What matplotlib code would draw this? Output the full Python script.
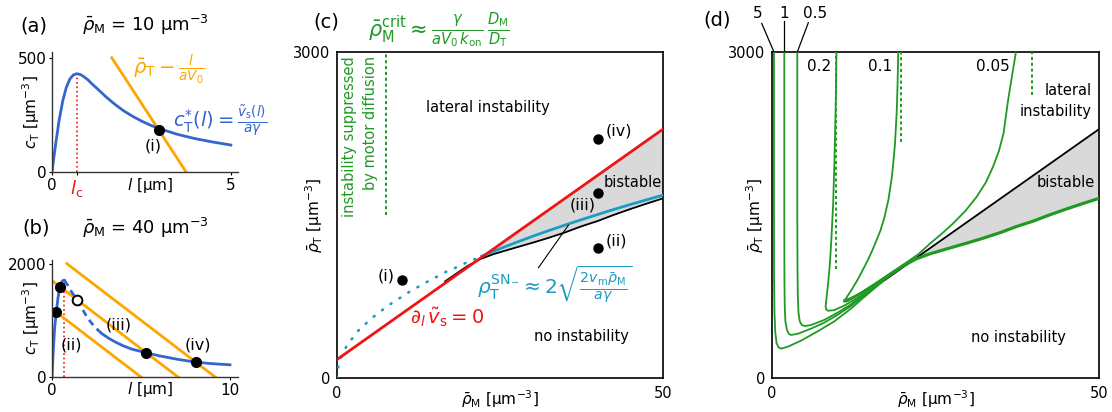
import matplotlib
matplotlib.use("Agg")
import matplotlib.pyplot as plt

plt.rcParams['font.family'] = ['DejaVu Sans']
plt.rcParams['mathtext.fontset'] = 'dejavusans'
plt.rcParams['font.size'] = 10.5

BLUE = '#3466cf'
ORANGE = '#ffa500'
RED = '#f01414'
TEAL = '#1d9bc2'
GREEN = '#1f9a22'
GRAY = '#d9d9d9'

# ---------------- panel (a): rho_M = 10 ----------------
a_l = [0, 0.1, 0.2, 0.3, 0.4, 0.5, 0.6, 0.7, 0.8, 0.9, 1.0, 1.1, 1.25, 1.5, 1.75, 2.0, 2.25,
       2.5, 2.75, 3.0, 3.5, 4.0, 4.5, 5.0]
a_c = [0, 120, 227, 311, 370, 407, 425, 430, 426, 416, 404, 388, 367, 330, 297, 268, 244,
       223, 205, 190, 165, 146, 131, 118]
a_orange_l = [1.67, 3.75]
a_orange_c = [500, 0]
a_lc = 0.7
a_peak = 430
a_dot = (2.98, 185)

# ---------------- panel (b): rho_M = 40 ----------------
b_l_rise = [0, 0.05, 0.1, 0.15, 0.24, 0.33, 0.44, 0.55, 0.62, 0.7]
b_c_rise = [0, 330, 620, 870, 1140, 1380, 1595, 1680, 1703, 1705]
b_l_unst = [0.7, 0.9, 1.1, 1.4, 1.7, 2.0, 2.4, 2.8]
b_c_unst = [1705, 1610, 1500, 1365, 1200, 1040, 880, 765]
b_l_fall = [2.8, 3.2, 3.6, 4.0, 4.5, 5.28, 6.0, 7.0, 8.08, 9.0, 10.0]
b_c_fall = [765, 680, 610, 550, 490, 428, 375, 315, 261, 235, 215]
b_orange = [([0, 5.0], [1200, 0]), ([0, 7.08], [1700, 0]), ([0.83, 9.17], [2000, 0])]
b_dots_l = [0.24, 0.44, 5.28, 8.08]
b_dots_c = [1140, 1595, 428, 261]
b_open = (1.40, 1365)
b_lc = 0.7
b_peak = 1705

# ---------------- panel (c): phase diagram ----------------
red_M = [0, 16.6, 50]
red_T = [170, 874, 2290]
lower_M = [16.6, 18, 20, 22, 24, 27, 30, 32.2, 35, 37.3, 40, 42.4, 45, 47.5, 50]
lower_T = [890, 948, 1030, 1095, 1140, 1193, 1245, 1285, 1340, 1392, 1445, 1500, 1555, 1605, 1653]
sn_dot_M = [0, 0.15, 0.5, 1, 1.64, 2.5, 3.27, 4.3, 5.32, 6.4, 7.52, 8.7, 9.92, 11, 12.2,
            13.3, 14.5, 15.6, 16.8, 18, 19.4, 21, 22.2]
sn_dot_T = [0, 92, 168, 238, 312, 376, 436, 494, 549, 602, 650, 702, 746, 789, 830,
            868, 907, 940, 980, 1010, 1050, 1090, 1121]
sn_M = [22.2, 25, 27.5, 30, 32.5, 35, 37.5, 40, 42.5, 45, 47.5, 50]
sn_T = [1121, 1190, 1248, 1304, 1357, 1408, 1457, 1505, 1552, 1597, 1640, 1683]
pts_M = [10, 40, 40, 40]
pts_T = [900, 1200, 1700, 2200]
crit_M = 7.5
crit_T0 = 1500

# ---------------- panel (d): curves for different parameter values ----------------
d_curves = {
    '5':   ([0.30, 0.30, 0.32, 0.38, 0.5, 0.7, 1.0, 1.42, 2.5, 4.48, 7, 9.5, 12, 14, 16.6, 18],
            [3000, 1500, 900, 600, 420, 320, 282, 270, 290, 345, 430, 520, 635, 740, 872, 946]),
    '1':   ([1.88, 1.88, 1.9, 1.95, 2.05, 2.3, 2.6, 2.95, 4, 6, 8, 10, 12, 14, 16.6, 18],
            [3000, 1500, 900, 650, 520, 440, 405, 396, 408, 455, 510, 580, 660, 755, 876, 947]),
    '0.5': ([3.87, 3.87, 3.9, 3.95, 4.05, 4.25, 4.55, 5.0, 6, 8, 10, 12, 14, 16.6, 18],
            [3000, 1500, 1000, 750, 600, 520, 488, 478, 488, 535, 600, 675, 765, 878, 948]),
    '0.2': ([9.85, 9.8, 9.7, 9.55, 9.35, 9.1, 8.85, 8.55, 8.3, 8.2, 8.3, 8.56, 9.5, 11, 13, 15,
             16.6, 18],
            [3000, 2700, 2400, 2000, 1600, 1300, 1050, 850, 720, 660, 630, 619, 624, 665, 735,
             815, 880, 949]),
    '0.1': ([19.3, 19.2, 19.07, 18.8, 18.5, 18.3, 17.8, 17.2, 16.6, 16.0, 15.3, 14.7, 14.1,
             13.5, 13.0, 12.5, 12.0, 11.5, 11.1, 11.0, 11.5, 13, 15, 16.6, 18],
            [3000, 2700, 2450, 2150, 1950, 1837, 1640, 1480, 1360, 1270, 1170, 1090, 1020,
             950, 895, 845, 795, 750, 712, 702, 706, 755, 830, 888, 950]),
    '0.05': ([37.3, 36.7, 36.1, 35.4, 34.7, 33.8, 32.7, 31.3, 29.6, 27.7, 26, 24.2, 22.4, 20.6,
              19, 17.5, 16, 14.7, 13.5, 12.1, 11.3, 11.0, 11.6, 13, 15, 16.6, 18],
             [3000, 2780, 2557, 2251, 2090, 1944, 1800, 1668, 1540, 1423, 1330, 1239, 1140, 1065,
              1000, 940, 880, 828, 782, 737, 721, 718, 716, 762, 835, 892, 952]),
}
d_crit = [(9.85, 1000), (19.8, 2174), (39.7, 2604)]

W, H = 1112, 412
fig = plt.figure(figsize=(W / 100, H / 100), dpi=100)


def px_axes(x0, y0, x1, y1):
    return fig.add_axes([x0 / W, 1 - y1 / H, (x1 - x0) / W, (y1 - y0) / H])


def ftext(x, y, s, **kw):
    fig.text(x / W, 1 - y / H, s, ha='center', va='center', **kw)


def open_frame(ax):
    for side in ('top', 'right'):
        ax.spines[side].set_visible(False)
    for side in ('left', 'bottom'):
        ax.spines[side].set_linewidth(1.0)
        ax.spines[side].set_color('#333333')
    ax.tick_params(length=2, width=0.8, pad=2, labelsize=11)


# ---- (a)
ax = px_axes(52, 52, 238, 172)
open_frame(ax)
ax.set_xlim(0, 5.2)
ax.set_ylim(0, 525)
ax.plot([a_lc, a_lc], [0, a_peak], ls=':', color=RED, lw=1.2)
ax.plot(a_orange_l, a_orange_c, color=ORANGE, lw=2)
ax.plot(a_l, a_c, color=BLUE, lw=2)
ax.plot(*a_dot, 'o', color='black', ms=7)
ax.set_xticks([0, a_lc, 5])
ax.set_xticklabels(['0', r'$l_\mathrm{c}$', '5'])
lc_lab = ax.get_xticklabels()[1]
lc_lab.set_color(RED)
lc_lab.set_fontsize(13)
ax.set_yticks([0, 500])
ax.text(0.527, -0.11, r'$l$ [μm]', transform=ax.transAxes, ha='center', va='center', fontsize=11)
ax.text(-0.11, 0.5, r'$c_\mathrm{T}$ [μm$^{-3}$]', transform=ax.transAxes, rotation=90,
        ha='center', va='center', fontsize=11)
ax.text(2.27, 452, r'$\bar{\rho}_\mathrm{T} - \frac{l}{aV_0}$', color=ORANGE, fontsize=14,
        ha='left', va='center')
ax.text(3.38, 224, r'$c_\mathrm{T}^{*}(l) = \frac{\tilde{v}_\mathrm{s}(l)}{a\gamma}$', color=BLUE,
        fontsize=14, ha='left', va='center')
ax.text(2.82, 114, '(i)', fontsize=11.5, ha='center', va='center')
ftext(34, 26, '(a)', fontsize=14)
ftext(145, 25, r'$\bar{\rho}_\mathrm{M}$ = 10 μm$^{-3}$', fontsize=13)

# ---- (b)
ax = px_axes(52, 260, 238, 377)
open_frame(ax)
ax.set_xlim(0, 10.45)
ax.set_ylim(0, 2063)
ax.plot([b_lc, b_lc], [0, b_peak], ls=':', color=RED, lw=1.2)
for ls_, cs_ in b_orange:
    ax.plot(ls_, cs_, color=ORANGE, lw=2)
ax.plot(b_l_rise, b_c_rise, color=BLUE, lw=2)
ax.plot(b_l_unst, b_c_unst, color=BLUE, lw=2, ls=(0, (2.4, 1.8)))
ax.plot(b_l_fall, b_c_fall, color=BLUE, lw=2)
ax.plot(b_dots_l, b_dots_c, 'o', color='black', ms=7)
ax.plot(*b_open, 'o', mfc='white', mec='black', mew=1.4, ms=7)
ax.set_xticks([0, 10])
ax.set_yticks([0, 2000])
ax.text(0.527, -0.11, r'$l$ [μm]', transform=ax.transAxes, ha='center', va='center', fontsize=11)
ax.text(-0.11, 0.5, r'$c_\mathrm{T}$ [μm$^{-3}$]', transform=ax.transAxes, rotation=90,
        ha='center', va='center', fontsize=11)
ax.text(1.1, 564, '(ii)', fontsize=11.5, ha='center', va='center')
ax.text(3.73, 917, '(iii)', fontsize=11.5, ha='center', va='center')
ax.text(8.22, 564, '(iv)', fontsize=11.5, ha='center', va='center')
ftext(36, 228, '(b)', fontsize=14)
ftext(145, 228, r'$\bar{\rho}_\mathrm{M}$ = 40 μm$^{-3}$', fontsize=13)


def box_frame(ax):
    for s in ax.spines.values():
        s.set_linewidth(1.2)
    ax.set_xlim(0, 50)
    ax.set_ylim(0, 3000)
    ax.set_xticks([0, 50])
    ax.set_yticks([0, 3000])
    ax.tick_params(length=0, labelsize=10.5)
    ax.tick_params(axis='x', pad=6)
    ax.tick_params(axis='y', pad=5)


# ---- (c)
ax = px_axes(337, 52, 663, 378)
box_frame(ax)
ax.fill(lower_M + [red_M[2], red_M[1]], lower_T + [red_T[2], red_T[1]], color=GRAY, lw=0, zorder=1)
ax.plot(lower_M, lower_T, color='black', lw=1.3, zorder=3)
ax.plot(sn_dot_M, sn_dot_T, color=TEAL, lw=1.9, ls=(0, (0.4, 3.6)), dash_capstyle='round', zorder=3)
ax.plot(sn_M, sn_T, color=TEAL, lw=2, zorder=3)
ax.plot(red_M, red_T, color=RED, lw=2, zorder=4)
ax.plot([crit_M, crit_M], [crit_T0, 3000], color=GREEN, lw=1.4, ls=(0, (1.6, 1.4)))
ax.plot(pts_M, pts_T, 'o', color='black', ms=6.5, zorder=5)
ax.plot([30.9, 35.5], [1015, 1407], color='black', lw=0.8, zorder=4)
ax.text(7.6, 943, '(i)', fontsize=11.5, ha='center', va='center')
ax.text(42.9, 1265, '(ii)', fontsize=11.5, ha='center', va='center')
ax.text(37.7, 1592, '(iii)', fontsize=11.5, ha='center', va='center', zorder=6)
ax.text(43.3, 2272, '(iv)', fontsize=11.5, ha='center', va='center')
ax.text(23.2, 2490, 'lateral instability', fontsize=10.5, ha='center', va='center')
ax.text(45.3, 1798, 'bistable', fontsize=10.5, ha='center', va='center')
ax.text(37.5, 380, 'no instability', fontsize=10.5, ha='center', va='center')
ax.text(3.5, 2960, 'instability suppressed\nby motor diffusion', color=GREEN, fontsize=10.5,
        rotation=90, ha='center', va='top', multialignment='right', linespacing=1.45)
ax.text(16.9, 557, r'$\partial_l\,\tilde{v}_\mathrm{s} = 0$', color=RED, fontsize=14,
        ha='center', va='center')
ax.text(33.3, 869, r'$\rho_\mathrm{T}^{\mathrm{SN}_{-}} \approx 2\sqrt{\frac{2v_\mathrm{m}\bar{\rho}_\mathrm{M}}{a\gamma}}$',
        color=TEAL, fontsize=14.5, ha='center', va='center')
ax.text(15.6, 3201, r'$\bar{\rho}_\mathrm{M}^\mathrm{crit} \approx \frac{\gamma}{aV_0\,k_\mathrm{on}}\,\frac{D_\mathrm{M}}{D_\mathrm{T}}$',
        color=GREEN, fontsize=15, ha='center', va='center')
ax.text(0.5, -0.064, r'$\bar{\rho}_\mathrm{M}$ [μm$^{-3}$]', transform=ax.transAxes,
        ha='center', va='center', fontsize=11)
ax.text(-0.07, 0.5, r'$\bar{\rho}_\mathrm{T}$ [μm$^{-3}$]', transform=ax.transAxes, rotation=90,
        ha='center', va='center', fontsize=11)
ftext(326, 22, '(c)', fontsize=14)

# ---- (d)
ax = px_axes(772, 52, 1099, 378)
box_frame(ax)
ax.fill(lower_M + [red_M[2], red_M[1]], lower_T + [red_T[2], red_T[1]], color=GRAY, lw=0, zorder=1)
ax.plot(red_M[1:], red_T[1:], color='black', lw=1.3, zorder=3)
for key, (cm, ct) in d_curves.items():
    ax.plot(cm, ct, color=GREEN, lw=1.3, zorder=4)
ax.plot(lower_M, lower_T, color=GREEN, lw=2.3, zorder=5)
for xm, y0 in d_crit:
    ax.plot([xm, xm], [y0, 3000], color=GREEN, lw=1.4, ls=(0, (1.6, 1.4)), zorder=4)
ax.text(9.0, 2864, '0.2', fontsize=11, ha='right', va='center')
ax.text(18.4, 2864, '0.1', fontsize=11, ha='right', va='center')
ax.text(36.3, 2864, '0.05', fontsize=11, ha='right', va='center')
top_labels = [('5', -2.25, (-1.57, 3263), (0.30, 3000)),
              ('1', 1.84, (1.88, 3282), (1.88, 3000)),
              ('0.5', 6.55, (5.55, 3269), (3.87, 3000))]
for lab, xl, p0, p1 in top_labels:
    ax.text(xl, 3355, lab, fontsize=11, ha='center', va='center', clip_on=False)
    ax.plot([p0[0], p1[0]], [p0[1], p1[1]], color='black', lw=0.9, clip_on=False)
ax.text(48.9, 2548, 'lateral\ninstability', fontsize=10.5, ha='right', va='center',
        multialignment='right', linespacing=1.5)
ax.text(49.4, 1797, 'bistable', fontsize=10.5, ha='right', va='center')
ax.text(37.7, 371, 'no instability', fontsize=10.5, ha='center', va='center')
ax.text(0.5, -0.064, r'$\bar{\rho}_\mathrm{M}$ [μm$^{-3}$]', transform=ax.transAxes,
        ha='center', va='center', fontsize=11)
ax.text(-0.052, 0.5, r'$\bar{\rho}_\mathrm{T}$ [μm$^{-3}$]', transform=ax.transAxes, rotation=90,
        ha='center', va='center', fontsize=11)
ftext(717, 20, '(d)', fontsize=14)

fig.savefig('out.png', dpi=100)
